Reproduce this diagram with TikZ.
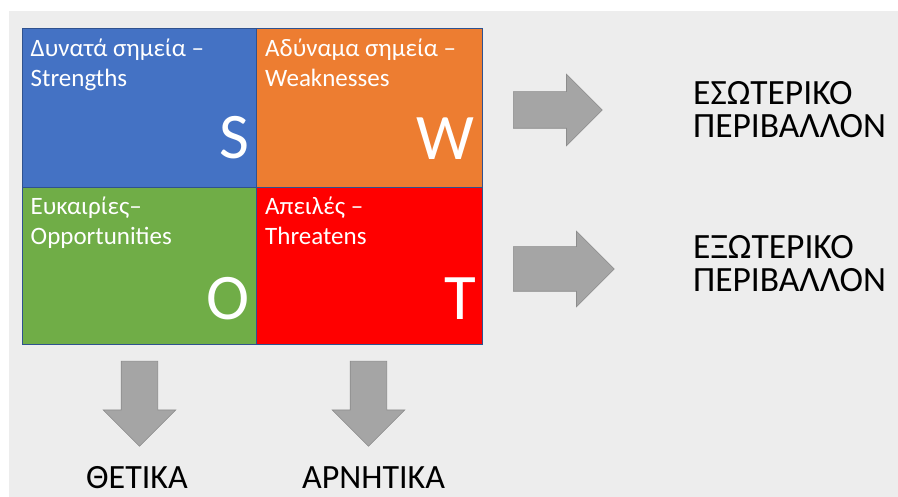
\documentclass[tikz,border=0pt]{standalone}
\usepackage{fontspec}
\setmainfont{Carlito}
\usepackage{tikz}
\usetikzlibrary{shapes.arrows}

\definecolor{swotblue}{RGB}{68,114,196}
\definecolor{swotorange}{RGB}{237,125,49}
\definecolor{swotgreen}{RGB}{112,173,71}
\definecolor{swotred}{RGB}{255,0,0}
\definecolor{swotedge}{RGB}{47,82,143}
\definecolor{panelgrey}{RGB}{237,237,237}
\definecolor{arrowgrey}{RGB}{165,165,165}
\definecolor{arrowedge}{RGB}{140,140,140}

\begin{document}
\begin{tikzpicture}[x=1pt, y=-1pt,
  cell/.style={draw=swotedge, line width=0.8pt, anchor=north west, inner sep=0pt, outer sep=0pt, minimum height=159pt},
  celltext/.style={anchor=base west, align=left, text=white, inner sep=0pt, font=\fontsize{25}{30}\selectfont},
  bigletter/.style={anchor=base east, text=white, inner sep=0pt, font=\fontsize{65}{70}\selectfont},
  blockarrow/.style={single arrow, anchor=tail, fill=arrowgrey, draw=arrowedge, line width=0.6pt, single arrow head indent=0pt},
  envtext/.style={anchor=base west, align=left, inner sep=0pt, font=\fontsize{35.5}{33}\selectfont}]
  \useasboundingbox (0,0) rectangle (898,497);
  \fill[panelgrey] (9,11) rectangle (898,497);

  \node[cell, fill=swotblue, minimum width=234pt] (s) at (22,28) {};
  \node[cell, fill=swotorange, minimum width=226pt] (w) at (s.north east) {};
  \node[cell, fill=swotgreen, minimum width=234pt, minimum height=157pt] (o) at (s.south west) {};
  \node[cell, fill=swotred, minimum width=226pt, minimum height=157pt] (t) at (o.north east) {};

  % base of a two-line node is the last line
  \node[celltext] (s-txt) at ([shift={(8.5pt,-59pt)}]s.north west) {Δυνατά σημεία –\\Strengths};
  \node[celltext] (w-txt) at ([shift={(9pt,-59pt)}]w.north west) {Αδύναμα σημεία –\\Weaknesses};
  \node[celltext] (o-txt) at ([shift={(8.5pt,-58pt)}]o.north west) {Ευκαιρίες–\\Opportunities};
  \node[celltext] (t-txt) at ([shift={(9pt,-58pt)}]t.north west) {Απειλές –\\Threatens};

  \node[bigletter] (s-big) at ([shift={(-6pt,28pt)}]s.south east) {S};
  \node[bigletter] (w-big) at ([shift={(-7pt,27pt)}]w.south east) {W};
  \node[bigletter] (o-big) at ([shift={(-6pt,24pt)}]o.south east) {O};
  \node[bigletter] (t-big) at ([shift={(-6pt,24pt)}]t.south east) {T};

  \node[blockarrow, inner sep=18pt, minimum height=89pt, single arrow head extend=17.5pt] (arr-int) at (513,110) {};
  \node[blockarrow, inner sep=22pt, minimum height=101pt, single arrow head extend=15.5pt] (arr-ext) at (513,269) {};
  \node[blockarrow, shape border rotate=270, inner sep=18pt, minimum height=85pt, single arrow head extend=18pt] (arr-pos) at (139.5,361) {};
  \node[blockarrow, shape border rotate=270, inner sep=18pt, minimum height=85pt, single arrow head extend=18pt] (arr-neg) at (368.5,361) {};

  \node[envtext] (int) at (693,138) {ΕΣΩΤΕΡΙΚΟ\\ΠΕΡΙΒΑΛΛΟΝ};
  \node[envtext] (ext) at (693,292) {ΕΞΩΤΕΡΙΚΟ\\ΠΕΡΙΒΑΛΛΟΝ};
  \node[envtext, font=\fontsize{34}{33}\selectfont] (pos) at (86,488) {ΘΕΤΙΚΑ};
  \node[envtext, font=\fontsize{34}{33}\selectfont] (neg) at (302,488) {ΑΡΝΗΤΙΚΑ};
\end{tikzpicture}
\end{document}
